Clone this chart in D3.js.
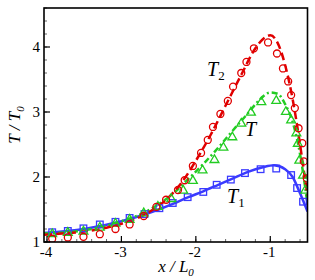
<!DOCTYPE html>
<html>
<head>
<meta charset="utf-8">
<script src="https://cdn.jsdelivr.net/npm/d3@7"></script>
<style>
  body { margin: 0; background: #fff; }
  text { font-family: "Liberation Serif", "DejaVu Serif", serif; }
  .tick-text { font-size: 15px; }
  .lbl { font-style: italic; }
</style>
</head>
<body>
<svg id="chart" width="315" height="280"></svg>
<script>
// x positions and values of the three lines
var lineT2X = [-4.04, -3.8, -3.5, -3.2, -3.0, -2.8, -2.6, -2.4, -2.2, -2.0, -1.8, -1.6, -1.4, -1.2, -1.1, -1.0, -0.9, -0.8, -0.7, -0.6, -0.55, -0.5];
var lineT2Y = [1.11, 1.13, 1.16, 1.22, 1.28, 1.36, 1.48, 1.65, 1.9, 2.25, 2.65, 3.1, 3.55, 3.98, 4.12, 4.18, 4.06, 3.72, 3.2, 2.5, 2.1, 1.72];
var lineTX = [-4.04, -3.5, -3.0, -2.7, -2.5, -2.3, -2.1, -1.9, -1.7, -1.5, -1.3, -1.15, -1.0, -0.9, -0.8, -0.7, -0.6, -0.5];
var lineTY = [1.13, 1.18, 1.32, 1.45, 1.58, 1.75, 1.97, 2.2, 2.45, 2.72, 2.98, 3.18, 3.3, 3.28, 3.12, 2.85, 2.35, 1.58];
var lineT1X = [-4.04, -3.5, -3.0, -2.7, -2.5, -2.3, -2.1, -1.9, -1.7, -1.5, -1.3, -1.1, -0.95, -0.8, -0.7, -0.6, -0.5];
var lineT1Y = [1.14, 1.2, 1.32, 1.42, 1.5, 1.59, 1.69, 1.78, 1.88, 1.98, 2.08, 2.15, 2.18, 2.12, 2.0, 1.75, 1.47];

// markers
var circX = [-3.93, -3.72, -3.51, -3.29, -3.08, -2.89, -2.70, -2.53, -2.40, -2.24, -2.15, -2.04, -1.93, -1.84, -1.77, -1.67, -1.57, -1.50, -1.39, -1.32, -1.22, -1.03, -0.91, -0.83, -0.76, -0.72, -0.67, -0.62, -0.57, -0.55, -0.51];
var circY = [1.05, 1.07, 1.08, 1.12, 1.2, 1.27, 1.40, 1.54, 1.65, 1.80, 1.95, 2.17, 2.37, 2.57, 2.77, 2.97, 3.17, 3.39, 3.60, 3.77, 3.98, 4.07, 3.90, 3.67, 3.47, 3.26, 3.06, 2.75, 2.52, 2.24, 1.98];
var triX = [-3.93, -3.72, -3.51, -3.29, -3.08, -2.89, -2.70, -2.51, -2.33, -2.17, -2.04, -1.91, -1.75, -1.63, -1.51, -1.39, -1.26, -1.12, -0.92, -0.79, -0.72, -0.65, -0.63, -0.61, -0.56, -0.53];
var triY = [1.13, 1.15, 1.17, 1.23, 1.29, 1.35, 1.45, 1.55, 1.67, 1.80, 1.95, 2.11, 2.27, 2.46, 2.62, 2.83, 3.00, 3.16, 3.18, 3.01, 2.88, 2.68, 2.52, 2.26, 2.03, 1.80];
var sqX = [-3.93, -3.72, -3.51, -3.29, -3.08, -2.89, -2.69, -2.49, -2.31, -2.11, -1.90, -1.72, -1.53, -1.34, -1.13, -0.92, -0.72, -0.64, -0.56];
var sqY = [1.15, 1.17, 1.21, 1.27, 1.31, 1.37, 1.43, 1.52, 1.60, 1.69, 1.77, 1.88, 1.96, 2.06, 2.12, 2.13, 2.03, 1.83, 1.62];

var xTicks = [-4, -3, -2, -1];
var yTicks = [1, 2, 3, 4];

var red = '#e00000', green = '#22cc22', blue = '#3a3aff';

var svg = d3.select('#chart');
var mLeft = 44, mRight = 307.5, mTop = 8, mBottom = 242;

var x = d3.scaleLinear().domain([-4.04, -0.5]).range([mLeft, mRight]);
var y = d3.scaleLinear().domain([1, 4.6]).range([mBottom, mTop]);

function pairs(xs, ys) { return xs.map(function(v, i) { return [v, ys[i]]; }); }

var plot = svg.append('g');
plot.append('clipPath').attr('id', 'clip')
  .append('rect').attr('x', mLeft).attr('y', mTop).attr('width', mRight - mLeft).attr('height', mBottom - mTop);

var line = d3.line().x(function(d) { return x(d[0]); }).y(function(d) { return y(d[1]); })
  .curve(d3.curveMonotoneX);

var g = plot.append('g').attr('clip-path', 'url(#clip)');

// lines
g.append('path').datum(pairs(lineT1X, lineT1Y))
  .attr('d', line).attr('fill', 'none').attr('stroke', blue).attr('stroke-width', 2.5);
g.append('path').datum(pairs(lineTX, lineTY))
  .attr('d', line).attr('fill', 'none').attr('stroke', green).attr('stroke-width', 2.5)
  .attr('stroke-dasharray', '6,3,2,3');
g.append('path').datum(pairs(lineT2X, lineT2Y))
  .attr('d', line).attr('fill', 'none').attr('stroke', red).attr('stroke-width', 2.5)
  .attr('stroke-dasharray', '8,4');

// markers
g.selectAll('.sq').data(pairs(sqX, sqY)).enter().append('rect')
  .attr('x', function(d) { return x(d[0]) - 3.3; })
  .attr('y', function(d) { return y(d[1]) - 3.3; })
  .attr('width', 6.6).attr('height', 6.6)
  .attr('fill', 'none').attr('stroke', blue).attr('stroke-width', 1.3);

var tri = d3.symbol().type(d3.symbolTriangle).size(34);
g.selectAll('.tri').data(pairs(triX, triY)).enter().append('path')
  .attr('d', tri)
  .attr('transform', function(d) { return 'translate(' + x(d[0]) + ',' + (y(d[1]) + 0.5) + ')'; })
  .attr('fill', 'none').attr('stroke', green).attr('stroke-width', 1.3);

g.selectAll('.circ').data(pairs(circX, circY)).enter().append('circle')
  .attr('cx', function(d) { return x(d[0]); })
  .attr('cy', function(d) { return y(d[1]); })
  .attr('r', 3.5)
  .attr('fill', 'none').attr('stroke', red).attr('stroke-width', 1.3);

// ticks (inward, major + minor)
var xMinor = d3.range(-4, -0.49, 0.2);
var yMinor = d3.range(1, 4.61, 0.2);
plot.selectAll('.xm').data(xMinor).enter().append('line')
  .attr('x1', function(d) { return x(d); }).attr('x2', function(d) { return x(d); })
  .attr('y1', mBottom).attr('y2', mBottom - 3)
  .attr('stroke', '#666').attr('stroke-width', 1);
plot.selectAll('.ym').data(yMinor).enter().append('line')
  .attr('y1', function(d) { return y(d); }).attr('y2', function(d) { return y(d); })
  .attr('x1', mLeft).attr('x2', mLeft + 3)
  .attr('stroke', '#666').attr('stroke-width', 1);
plot.selectAll('.xM').data(xTicks).enter().append('line')
  .attr('x1', function(d) { return x(d); }).attr('x2', function(d) { return x(d); })
  .attr('y1', mBottom).attr('y2', mBottom - 6)
  .attr('stroke', '#000').attr('stroke-width', 1.2);
plot.selectAll('.yM').data(yTicks).enter().append('line')
  .attr('y1', function(d) { return y(d); }).attr('y2', function(d) { return y(d); })
  .attr('x1', mLeft).attr('x2', mLeft + 6)
  .attr('stroke', '#000').attr('stroke-width', 1.2);

// frame
plot.append('rect').attr('x', mLeft).attr('y', mTop)
  .attr('width', mRight - mLeft).attr('height', mBottom - mTop)
  .attr('fill', 'none').attr('stroke', '#000').attr('stroke-width', 1.6);

// tick labels
svg.selectAll('.xl').data(xTicks).enter().append('text')
  .attr('class', 'tick-text')
  .attr('x', function(d) { return x(d) - 1; }).attr('y', 257)
  .attr('text-anchor', 'middle')
  .text(function(d) { return '-' + Math.abs(d); });
svg.selectAll('.yl').data(yTicks).enter().append('text')
  .attr('class', 'tick-text')
  .attr('x', 40).attr('y', function(d) { return y(d) + 5; })
  .attr('text-anchor', 'end')
  .text(function(d) { return d; });

// axis titles
var xt = svg.append('text').attr('class', 'lbl').attr('x', 176).attr('y', 272)
  .attr('text-anchor', 'middle').style('font-size', '17px');
xt.append('tspan').text('x / L');
xt.append('tspan').attr('dy', 4).style('font-size', '11px').text('0');

var yt = svg.append('text').attr('class', 'lbl')
  .attr('transform', 'translate(20,125) rotate(-90)')
  .attr('text-anchor', 'middle').style('font-size', '17px');
yt.append('tspan').text('T / T');
yt.append('tspan').attr('dy', 4).style('font-size', '11px').text('0');

// curve labels
function curveLabel(px, py, sub) {
  var t = svg.append('text').attr('class', 'lbl').attr('x', px).attr('y', py)
    .style('font-size', '20px');
  t.append('tspan').text('T');
  if (sub) t.append('tspan').attr('dy', 4).style('font-size', '13px').style('font-style', 'normal').text(sub);
}
curveLabel(207, 76, '2');
curveLabel(245, 136, '');
curveLabel(227, 203, '1');
</script>
</body>
</html>
